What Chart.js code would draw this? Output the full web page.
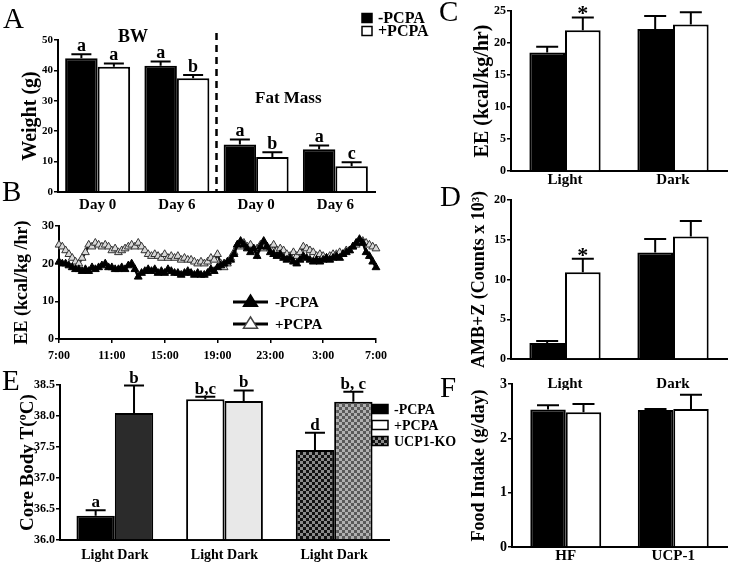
<!DOCTYPE html>
<html>
<head>
<meta charset="utf-8">
<script src="https://cdn.jsdelivr.net/npm/chart.js@4.4.1/dist/chart.umd.min.js"></script>
<style>
  body { margin: 0; background: #fff; }
  #wrap { position: relative; width: 736px; height: 566px; overflow: hidden; background: #fff; font-family: 'Liberation Serif', 'Times New Roman', serif; }
  .txt { position: absolute; font-weight: bold; color: #000; white-space: nowrap; line-height: 1; z-index: 5; }
  .big { position: absolute; font-size: 29px; color: #000; line-height: 1; z-index: 5; }
</style>
</head>
<body>
<div id="wrap">
  <div class="big" style="left:3px;top:4px">A</div>
  <div class="big" style="left:2px;top:177px">B</div>
  <div class="big" style="left:439px;top:-3px">C</div>
  <div class="big" style="left:440px;top:182px">D</div>
  <div class="big" style="left:2px;top:366px">E</div>
  <div class="big" style="left:440px;top:373px">F</div>
  <div class="txt" style="left:118px;top:27px;font-size:18px">BW</div>
  <div class="txt" style="left:255px;top:89px;font-size:17px">Fat Mass</div>
</div>
<script>
// A: body weight / fat mass
const aLabels = ['Day 0', 'Day 6', 'Day 0', 'Day 6']
const aMinus = [44.0, 41.5, 15.6, 14.1]
const aMinusErr = [45.3, 42.9, 17.3, 15.3]
const aPlus = [41.2, 37.4, 11.5, 8.5]
const aPlusErr = [42.3, 38.5, 13.1, 9.8]
const aMinusTags = ['a', 'a', 'a', 'a']
const aPlusTags = ['a', 'b', 'b', 'c']

// B: EE over 24h, one value per 15 min from 7:00 to 7:00
const bTicks = ['7:00', '11:00', '15:00', '19:00', '23:00', '3:00', '7:00']
const bMinus = [
  20.5, 20, 20, 19.5, 19, 18.5, 18.5, 18, 18.5, 18, 19, 18.5,
  19, 19.5, 20, 19, 19, 18.5, 18.5, 19, 18.5, 19.5, 20, 18.5,
  16.5, 17.5, 18, 18.5, 18, 18.5, 17.5, 18, 17.5, 18.5, 18, 17.5,
  17.5, 17, 17.5, 18, 17.5, 17, 17.5, 17, 17, 17.5, 18.5, 18,
  19, 19.5, 20, 20.5, 21, 22.5, 25, 26, 25, 24, 23, 24,
  22, 24.5, 26, 24.5, 23, 22.5, 22, 22.5, 21.5, 21, 21.5, 20.5,
  20, 21, 22, 21.5, 21, 20.5, 21, 20.5, 21, 21.5, 21, 21.5,
  22, 21.5, 22.5, 23, 23.5, 24.5, 25.5, 26.5, 25.5, 23, 22, 20.5,
  19
]
const bPlus = [
  25, 24.5, 23.5, 22.5, 21.5, 20.5, 20, 21.5, 23, 25, 24.5, 25.5,
  25, 24.5, 25, 24.5, 23.5, 24, 23, 23.5, 24, 24.5, 25, 24.5,
  25.5, 24.5, 23.5, 22.5, 22, 22.5, 22, 21.5, 22.5, 21.5, 22, 21.5,
  22, 21, 21.5, 21, 21, 20.5, 20, 20.5, 20, 20.5, 21.5, 21,
  22.5, 20, 19, 20, 21.5, 23, 25, 24.5, 25.5, 24.5, 25, 23.5,
  24, 25, 24, 24.5, 24, 25, 23.5, 24, 23.5, 22.5, 22, 23,
  22, 23, 24.5, 24, 23.5, 23, 22, 22.5, 22, 21.5, 22, 22.5,
  22.5, 23, 22.5, 23.5, 23.5, 24.5, 25, 25.5, 26, 25.5, 25, 24.5,
  24
]

// C: EE light / dark
const cLabels = ['Light', 'Dark']
const cMinus = [18.5, 22.2]
const cMinusErr = [19.4, 24.2]
const cPlus = [22.0, 22.9]
const cPlusErr = [24.0, 24.8]
const cPlusTags = ['*', '']

// D: activity
const dLabels = ['Light', 'Dark']
const dMinus = [2.0, 13.4]
const dMinusErr = [2.25, 15.1]
const dPlus = [10.9, 15.4]
const dPlusErr = [12.6, 17.35]
const dPlusTags = ['*', '']

// E: core body temperature
const eLabels = ['Light Dark', 'Light Dark', 'Light Dark']
const eLight = [36.39, 38.27, 37.45]
const eLightErr = [36.48, 38.31, 37.73]
const eDark = [38.05, 38.24, 38.23]
const eDarkErr = [38.49, 38.41, 38.39]
const eLightTags = ['a', 'b,c', 'd']
const eDarkTags = ['b', 'b', 'b, c']

// F: food intake
const fLabels = ['HF', 'UCP-1']
const fMinus = [2.53, 2.52]
const fMinusErr = [2.61, 2.54]
const fPlus = [2.48, 2.54]
const fPlusErr = [2.63, 2.80]

const serif = "'Liberation Serif', 'Times New Roman', serif"
Chart.defaults.font.family = serif
Chart.defaults.font.weight = 'bold'
Chart.defaults.color = '#000'
Chart.defaults.animation = false

function panel(id, left, top, w, h) {
  const c = document.createElement('canvas')
  c.id = id
  c.width = w
  c.height = h
  c.style.cssText = `position:absolute;left:${left}px;top:${top}px;width:${w}px;height:${h}px`
  document.getElementById('wrap').appendChild(c)
  return c
}

function yAxis(min, max, step, title, titleSize, titlePad, yW, tickSize) {
  return {
    min: min,
    max: max,
    ticks: { stepSize: step, font: { size: tickSize }, padding: 1 },
    grid: { drawOnChartArea: false, drawTicks: true, tickLength: 4, color: '#000', lineWidth: 1.5 },
    border: { color: '#000', width: 2 },
    title: { display: true, text: title, font: { size: titleSize }, padding: { top: titlePad, bottom: 0 } },
    afterFit: s => { s.width = yW }
  }
}

function xAxis(xH, size, pad) {
  return {
    grid: { display: false, drawTicks: false },
    border: { color: '#000', width: 2 },
    ticks: { font: { size: size }, padding: pad, autoSkip: false, maxRotation: 0 },
    afterFit: s => { s.height = xH }
  }
}

// upper error bars + letters over them
function errorBars(tagSize, cap, tagShift) {
  return {
    id: 'errorBars',
    afterDatasetsDraw(chart) {
      const ctx = chart.ctx
      const y = chart.scales.y
      chart.data.datasets.forEach((ds, i) => {
        if (!ds.errTop) return
        const meta = chart.getDatasetMeta(i)
        meta.data.forEach((bar, j) => {
          const top = y.getPixelForValue(ds.errTop[j])
          ctx.save()
          ctx.strokeStyle = '#000'
          ctx.lineWidth = 2
          ctx.beginPath()
          ctx.moveTo(bar.x, bar.y)
          ctx.lineTo(bar.x, top)
          ctx.moveTo(bar.x - cap, top)
          ctx.lineTo(bar.x + cap, top)
          ctx.stroke()
          if (ds.tags && ds.tags[j]) {
            ctx.fillStyle = '#000'
            ctx.font = `bold ${tagSize}px ${serif}`
            ctx.textAlign = 'center'
            ctx.textBaseline = 'bottom'
            ctx.fillText(ds.tags[j], bar.x, top + tagShift)
          }
          ctx.restore()
        })
      })
    }
  }
}

function boxLegend(o) {
  return {
    id: 'boxLegend',
    afterDraw(chart) {
      const ctx = chart.ctx
      ctx.save()
      ctx.font = `bold ${o.size}px ${serif}`
      ctx.textBaseline = 'middle'
      ctx.textAlign = 'left'
      o.items.forEach((it, k) => {
        const y = o.y + k * o.gap
        if (it.kind === 'line') {
          ctx.strokeStyle = '#000'
          ctx.lineWidth = 3
          ctx.beginPath()
          ctx.moveTo(o.x, y)
          ctx.lineTo(o.x + o.w, y)
          ctx.stroke()
          const cx = o.x + o.w / 2
          const r = 7
          ctx.beginPath()
          ctx.moveTo(cx, y - r)
          ctx.lineTo(cx + r, y + r * 0.6)
          ctx.lineTo(cx - r, y + r * 0.6)
          ctx.closePath()
          ctx.fillStyle = it.fill
          ctx.fill()
          ctx.lineWidth = 1.5
          ctx.strokeStyle = it.edge || '#000'
          ctx.stroke()
        } else {
          ctx.fillStyle = it.fill
          ctx.fillRect(o.x, y - o.h / 2, o.w, o.h)
          ctx.strokeStyle = '#000'
          ctx.lineWidth = 1.5
          ctx.strokeRect(o.x, y - o.h / 2, o.w, o.h)
        }
        ctx.fillStyle = '#000'
        ctx.fillText(it.label, o.x + o.w + o.textGap, y + 1)
      })
      ctx.restore()
    }
  }
}

const dashedSplit = {
  id: 'dashedSplit',
  afterDraw(chart) {
    const x = chart.scales.x
    const area = chart.chartArea
    const ctx = chart.ctx
    const px = (x.getPixelForValue(1) + x.getPixelForValue(2)) / 2
    ctx.save()
    ctx.setLineDash([7, 5])
    ctx.lineWidth = 2.5
    ctx.strokeStyle = '#000'
    ctx.beginPath()
    ctx.moveTo(px, area.top - 7)
    ctx.lineTo(px, area.bottom)
    ctx.stroke()
    ctx.restore()
  }
}

const noPlugins = { legend: { display: false }, tooltip: { enabled: false } }

// ---- A ----
const chartA = panel('chartA', 0, 0, 440, 215)
new Chart(chartA, {
  type: 'bar',
  data: {
    labels: aLabels,
    datasets: [
      { label: '-PCPA', data: aMinus, errTop: aMinusErr, tags: aMinusTags, backgroundColor: '#000', borderColor: '#000', borderWidth: 2 },
      { label: '+PCPA', data: aPlus, errTop: aPlusErr, tags: aPlusTags, backgroundColor: '#fff', borderColor: '#000', borderWidth: 2 }
    ]
  },
  options: {
    responsive: false,
    layout: { padding: { top: 40, right: 65, left: 0, bottom: 0 } },
    datasets: { bar: { categoryPercentage: 0.82, barPercentage: 1 } },
    plugins: noPlugins,
    scales: {
      x: xAxis(23, 15, 4),
      y: yAxis(0, 50, 10, 'Weight (g)', 20, 19, 58, 11)
    }
  },
  plugins: [errorBars(18, 10, 1), dashedSplit, boxLegend({
    x: 362, y: 18, gap: 13, w: 10, h: 9, textGap: 6, size: 16,
    items: [{ label: '-PCPA', fill: '#000' }, { label: '+PCPA', fill: '#fff' }]
  })]
})

// ---- B ----
const chartB = panel('chartB', 0, 215, 395, 150)
new Chart(chartB, {
  type: 'line',
  data: {
    datasets: [
      {
        label: '-PCPA',
        data: bMinus.map((v, i) => ({ x: i / 4, y: v })),
        borderColor: '#000', borderWidth: 2.5,
        pointStyle: 'triangle', pointRadius: 4.5, pointBackgroundColor: '#000', pointBorderColor: '#000', pointBorderWidth: 1,
        clip: 6
      },
      {
        label: '+PCPA',
        data: bPlus.map((v, i) => ({ x: i / 4, y: v })),
        borderColor: '#1a1a1a', borderWidth: 2.5,
        pointStyle: 'triangle', pointRadius: 4.5, pointBackgroundColor: '#d8d8d8', pointBorderColor: '#333', pointBorderWidth: 1,
        clip: 6
      }
    ]
  },
  options: {
    responsive: false,
    layout: { padding: { top: 11, right: 19, left: 0, bottom: 0 } },
    plugins: noPlugins,
    scales: {
      x: {
        type: 'linear', min: 0, max: 24,
        grid: { drawOnChartArea: false, drawTicks: true, tickLength: 4, color: '#000', lineWidth: 1.5 },
        border: { color: '#000', width: 2 },
        ticks: { stepSize: 4, font: { size: 12 }, padding: 6, maxRotation: 0, callback: v => bTicks[v / 4] },
        afterFit: s => { s.height = 26 }
      },
      y: yAxis(0, 30, 10, 'EE (kcal/kg /hr)', 18, 12, 59, 12)
    }
  },
  plugins: [boxLegend({
    x: 233, y: 87, gap: 22, w: 35, h: 0, textGap: 7, size: 15,
    items: [
      { label: '-PCPA', fill: '#000', kind: 'line' },
      { label: '+PCPA', fill: '#fff', edge: '#444', kind: 'line' }
    ]
  })]
})

// ---- C ----
const chartC = panel('chartC', 400, 0, 336, 190)
new Chart(chartC, {
  type: 'bar',
  data: {
    labels: cLabels,
    datasets: [
      { label: '-PCPA', data: cMinus, errTop: cMinusErr, backgroundColor: '#000', borderColor: '#000', borderWidth: 2 },
      { label: '+PCPA', data: cPlus, errTop: cPlusErr, tags: cPlusTags, backgroundColor: '#fff', borderColor: '#000', borderWidth: 2 }
    ]
  },
  options: {
    responsive: false,
    layout: { padding: { top: 11, right: 9, left: 0, bottom: 0 } },
    datasets: { bar: { categoryPercentage: 0.66, barPercentage: 1 } },
    plugins: noPlugins,
    scales: {
      x: xAxis(19, 15, 0),
      y: yAxis(0, 25, 5, 'EE (kcal/kg/hr)', 20, 71, 111, 12)
    }
  },
  plugins: [errorBars(22, 11, 8)]
})

// ---- D ----
const chartD = panel('chartD', 400, 190, 336, 200)
new Chart(chartD, {
  type: 'bar',
  data: {
    labels: dLabels,
    datasets: [
      { label: '-PCPA', data: dMinus, errTop: dMinusErr, backgroundColor: '#000', borderColor: '#000', borderWidth: 2 },
      { label: '+PCPA', data: dPlus, errTop: dPlusErr, tags: dPlusTags, backgroundColor: '#fff', borderColor: '#000', borderWidth: 2 }
    ]
  },
  options: {
    responsive: false,
    layout: { padding: { top: 10, right: 9, left: 0, bottom: 0 } },
    datasets: { bar: { categoryPercentage: 0.66, barPercentage: 1 } },
    plugins: noPlugins,
    scales: {
      x: xAxis(31, 15, 16),
      y: yAxis(0, 20, 5, 'AMB+Z (Counts x 10³)', 18, 69, 111, 12)
    }
  },
  plugins: [errorBars(22, 11, 8)]
})

// ---- E ----
const chartE = panel('chartE', 0, 365, 460, 201)
const ectx = chartE.getContext('2d')
function checker(c1, c2) {
  const p = document.createElement('canvas')
  p.width = 6
  p.height = 6
  const g = p.getContext('2d')
  g.fillStyle = c1
  g.fillRect(0, 0, 6, 6)
  g.fillStyle = c2
  g.fillRect(0, 0, 3, 3)
  g.fillRect(3, 3, 3, 3)
  return ectx.createPattern(p, 'repeat')
}
const koLight = checker('#111', '#8a8a8a')
const koDark = checker('#5a5a5a', '#b0b0b0')

new Chart(chartE, {
  type: 'bar',
  data: {
    labels: eLabels,
    datasets: [
      { label: 'Light', data: eLight, errTop: eLightErr, tags: eLightTags, base: 36, backgroundColor: ['#000', '#fff', koLight], borderColor: '#000', borderWidth: 2 },
      { label: 'Dark', data: eDark, errTop: eDarkErr, tags: eDarkTags, base: 36, backgroundColor: ['#2b2b2b', '#e8e8e8', koDark], borderColor: '#000', borderWidth: 2 }
    ]
  },
  options: {
    responsive: false,
    layout: { padding: { top: 20, right: 71, left: 0, bottom: 0 } },
    datasets: { bar: { categoryPercentage: 0.7, barPercentage: 1 } },
    plugins: noPlugins,
    scales: {
      x: xAxis(26, 14, 7),
      y: Object.assign(yAxis(36, 38.5, 0.5, 'Core Body T(ºC)', 19, 17, 60, 12), {
        ticks: { stepSize: 0.5, font: { size: 12 }, padding: 1, callback: v => v.toFixed(1) }
      })
    }
  },
  plugins: [errorBars(17, 10, 1), boxLegend({
    x: 372, y: 44, gap: 16, w: 16, h: 9, textGap: 6, size: 14,
    items: [
      { label: '-PCPA', fill: '#000' },
      { label: '+PCPA', fill: '#fff' },
      { label: 'UCP1-KO', fill: koLight }
    ]
  })]
})

// ---- F ----
const chartF = panel('chartF', 400, 370, 336, 196)
new Chart(chartF, {
  type: 'bar',
  data: {
    labels: fLabels,
    datasets: [
      { label: '-PCPA', data: fMinus, errTop: fMinusErr, backgroundColor: '#000', borderColor: '#000', borderWidth: 2 },
      { label: '+PCPA', data: fPlus, errTop: fPlusErr, backgroundColor: '#fff', borderColor: '#000', borderWidth: 2 }
    ]
  },
  options: {
    responsive: false,
    layout: { padding: { top: 14, right: 9, left: 0, bottom: 0 } },
    datasets: { bar: { categoryPercentage: 0.66, barPercentage: 1 } },
    plugins: noPlugins,
    scales: {
      x: xAxis(19, 15, 0),
      y: yAxis(0, 3, 1, 'Food Intake (g/day)', 18, 69, 112, 14)
    }
  },
  plugins: [errorBars(17, 11, 1)]
})
</script>
</body>
</html>
